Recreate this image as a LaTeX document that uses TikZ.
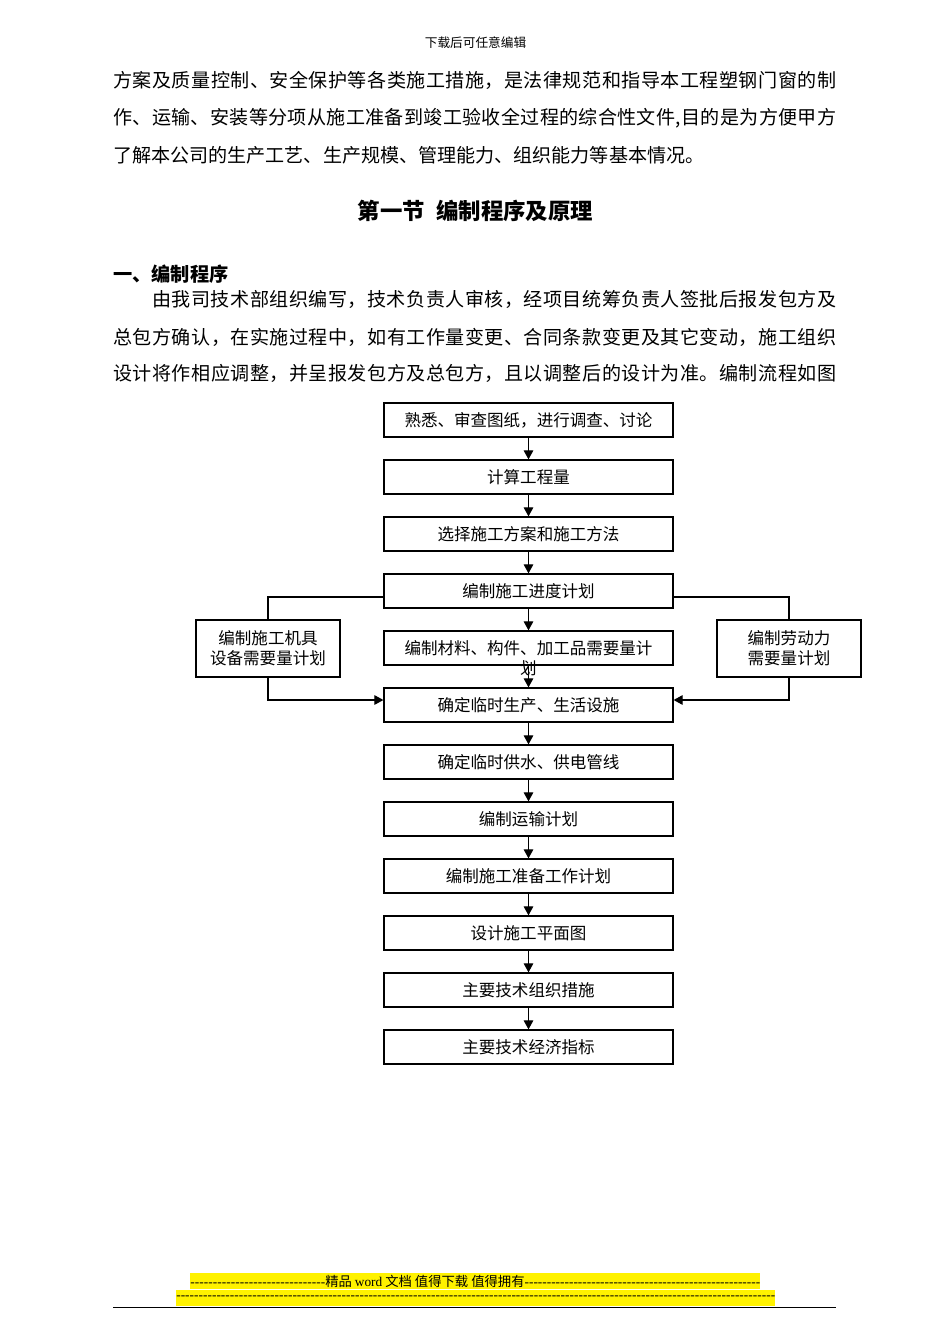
\documentclass[tikz,border=0pt]{standalone}
\usepackage{fontspec}
\setmainfont{Noto Sans CJK SC}
\newfontfamily\latinserif{Liberation Serif}
\usetikzlibrary{arrows.meta}
\newXeTeXintercharclass\cjkcls
\count255="3000
\loop
  \XeTeXcharclass\count255=\cjkcls
  \advance\count255 by 1
\ifnum\count255<"3040 \repeat
\count255="4E00
\loop
  \XeTeXcharclass\count255=\cjkcls
  \advance\count255 by 1
\ifnum\count255<"A000 \repeat
\XeTeXcharclass"FF0C=\cjkcls
\XeTeXcharclass"FF1B=\cjkcls
\XeTeXcharclass"FF1A=\cjkcls
\XeTeXinterchartoks \cjkcls \cjkcls = {\hskip 0pt plus 1pt\relax}
\XeTeXinterchartoks \cjkcls 0 = {\hskip 0pt plus 1pt\relax}
\XeTeXinterchartoks 0 \cjkcls = {\hskip 0pt plus 1pt\relax}
\newcommand\jline[2]{{\XeTeXinterchartokenstate=1 \makebox[#1][s]{#2}}}
\begin{document}
\begin{tikzpicture}[x=0.75pt,y=-0.75pt,
  box/.style={draw, line width=0.9pt, minimum width=216.75pt, minimum height=25.5pt, inner sep=0pt, font=\fontsize{12.4}{15}\selectfont},
  side/.style={box, minimum width=108pt, minimum height=42.75pt, align=center},
  link/.style={line width=0.9pt},
  arr/.style={link, -{Triangle[length=6.8pt,width=7.2pt]}},
  plain/.style={anchor=west, inner sep=0pt, font=\fontsize{14.3}{18}\selectfont},
  foot/.style={anchor=west, inner sep=0pt, fill=yellow, minimum height=12pt, font=\fontsize{10}{12}\selectfont},
]
\path[use as bounding box] (0,0) rectangle (950,1344);

% header
\node[font=\fontsize{9.5}{11}\selectfont] (hdr) at (475.5,43) {下载后可任意编辑};

% paragraph 1
\node[plain] (p1) at (113,80) {\jline{542.25pt}{方案及质量控制、安全保护等各类施工措施，是法律规范和指导本工程塑钢门窗的制}};
\node[plain] (p2) at (113,118) {\jline{542.25pt}{作、运输、安装等分项从施工准备到竣工验收全过程的综合性文件,目的是为方便甲方}};
\node[plain] (p3) at (113,155) {了解本公司的生产工艺、生产规模、管理能力、组织能力等基本情况。};

% headings
\node[font=\fontsize{16.8}{20}\selectfont\bfseries] (h1) at (475.5,211) {第一节\hspace{0.5em}编制程序及原理};
\node[plain, font=\fontsize{14.4}{18}\selectfont\bfseries] (h2) at (113,274) {一、编制程序};

% paragraph 2
\node[plain] (q1) at (152,299) {\jline{513pt}{由我司技术部组织编写，技术负责人审核，经项目统筹负责人签批后报发包方及}};
\node[plain] (q2) at (113,337) {\jline{542.25pt}{总包方确认，在实施过程中，如有工作量变更、合同条款变更及其它变动，施工组织}};
\node[plain] (q3) at (113,373) {\jline{542.25pt}{设计将作相应调整，并呈报发包方及总包方，且以调整后的设计为准。编制流程如图}};

% flowchart
\node[box] (b1) at (528.5,420) {熟悉、审查图纸，进行调查、讨论};
\node[box] (b2) at (528.5,477) {计算工程量};
\node[box] (b3) at (528.5,534) {选择施工方案和施工方法};
\node[box] (b4) at (528.5,591) {编制施工进度计划};
\node[box] (b5) at (528.5,648) {编制材料、构件、加工品需要量计};
\node[box] (b6) at (528.5,705) {确定临时生产、生活设施};
\node[box] (b7) at (528.5,762) {确定临时供水、供电管线};
\node[box] (b8) at (528.5,819) {编制运输计划};
\node[box] (b9) at (528.5,876) {编制施工准备工作计划};
\node[box] (b10) at (528.5,933) {设计施工平面图};
\node[box] (b11) at (528.5,990) {主要技术组织措施};
\node[box] (b12) at (528.5,1047) {主要技术经济指标};
\node[inner sep=0pt, font=\fontsize{12.4}{15}\selectfont] (b5w) at (528.5,668) {划};

\node[side] (L) at (268,648.5) {编制施工机具\\设备需要量计划};
\node[side] (R) at (789,648.5) {编制劳动力\\需要量计划};

\foreach \a/\b in {b1/b2,b2/b3,b3/b4,b4/b5,b5/b6,b6/b7,b7/b8,b8/b9,b9/b10,b10/b11,b11/b12}
  \draw[arr] (\a) -- (\b);

\draw[link] ([yshift=-4.5pt]b4.west) -| (L.north);
\draw[arr] (L.south) |- ([yshift=3.75pt]b6.west);
\draw[link] ([yshift=-4.5pt]b4.east) -| (R.north);
\draw[arr] (R.south) |- ([yshift=3.75pt]b6.east);

% footer
\node[foot] (f1) at (190,1281) {\makebox[427.5pt]{{\latinserif\makebox[101.25pt]{\xleaders\hbox{-}\hfill}}精品 {\latinserif word} 文档 值得下载 值得拥有{\latinserif\xleaders\hbox{-}\hfill}}};
\node[foot] (f2) at (176,1297.5) {\latinserif\makebox[449.25pt]{\xleaders\hbox{-}\hfill}};
\coordinate (r1) at (113,1307.5);
\coordinate (r2) at (836,1307.5);
\draw[line width=1.1pt] (r1) -- (r2);
\end{tikzpicture}
\end{document}
